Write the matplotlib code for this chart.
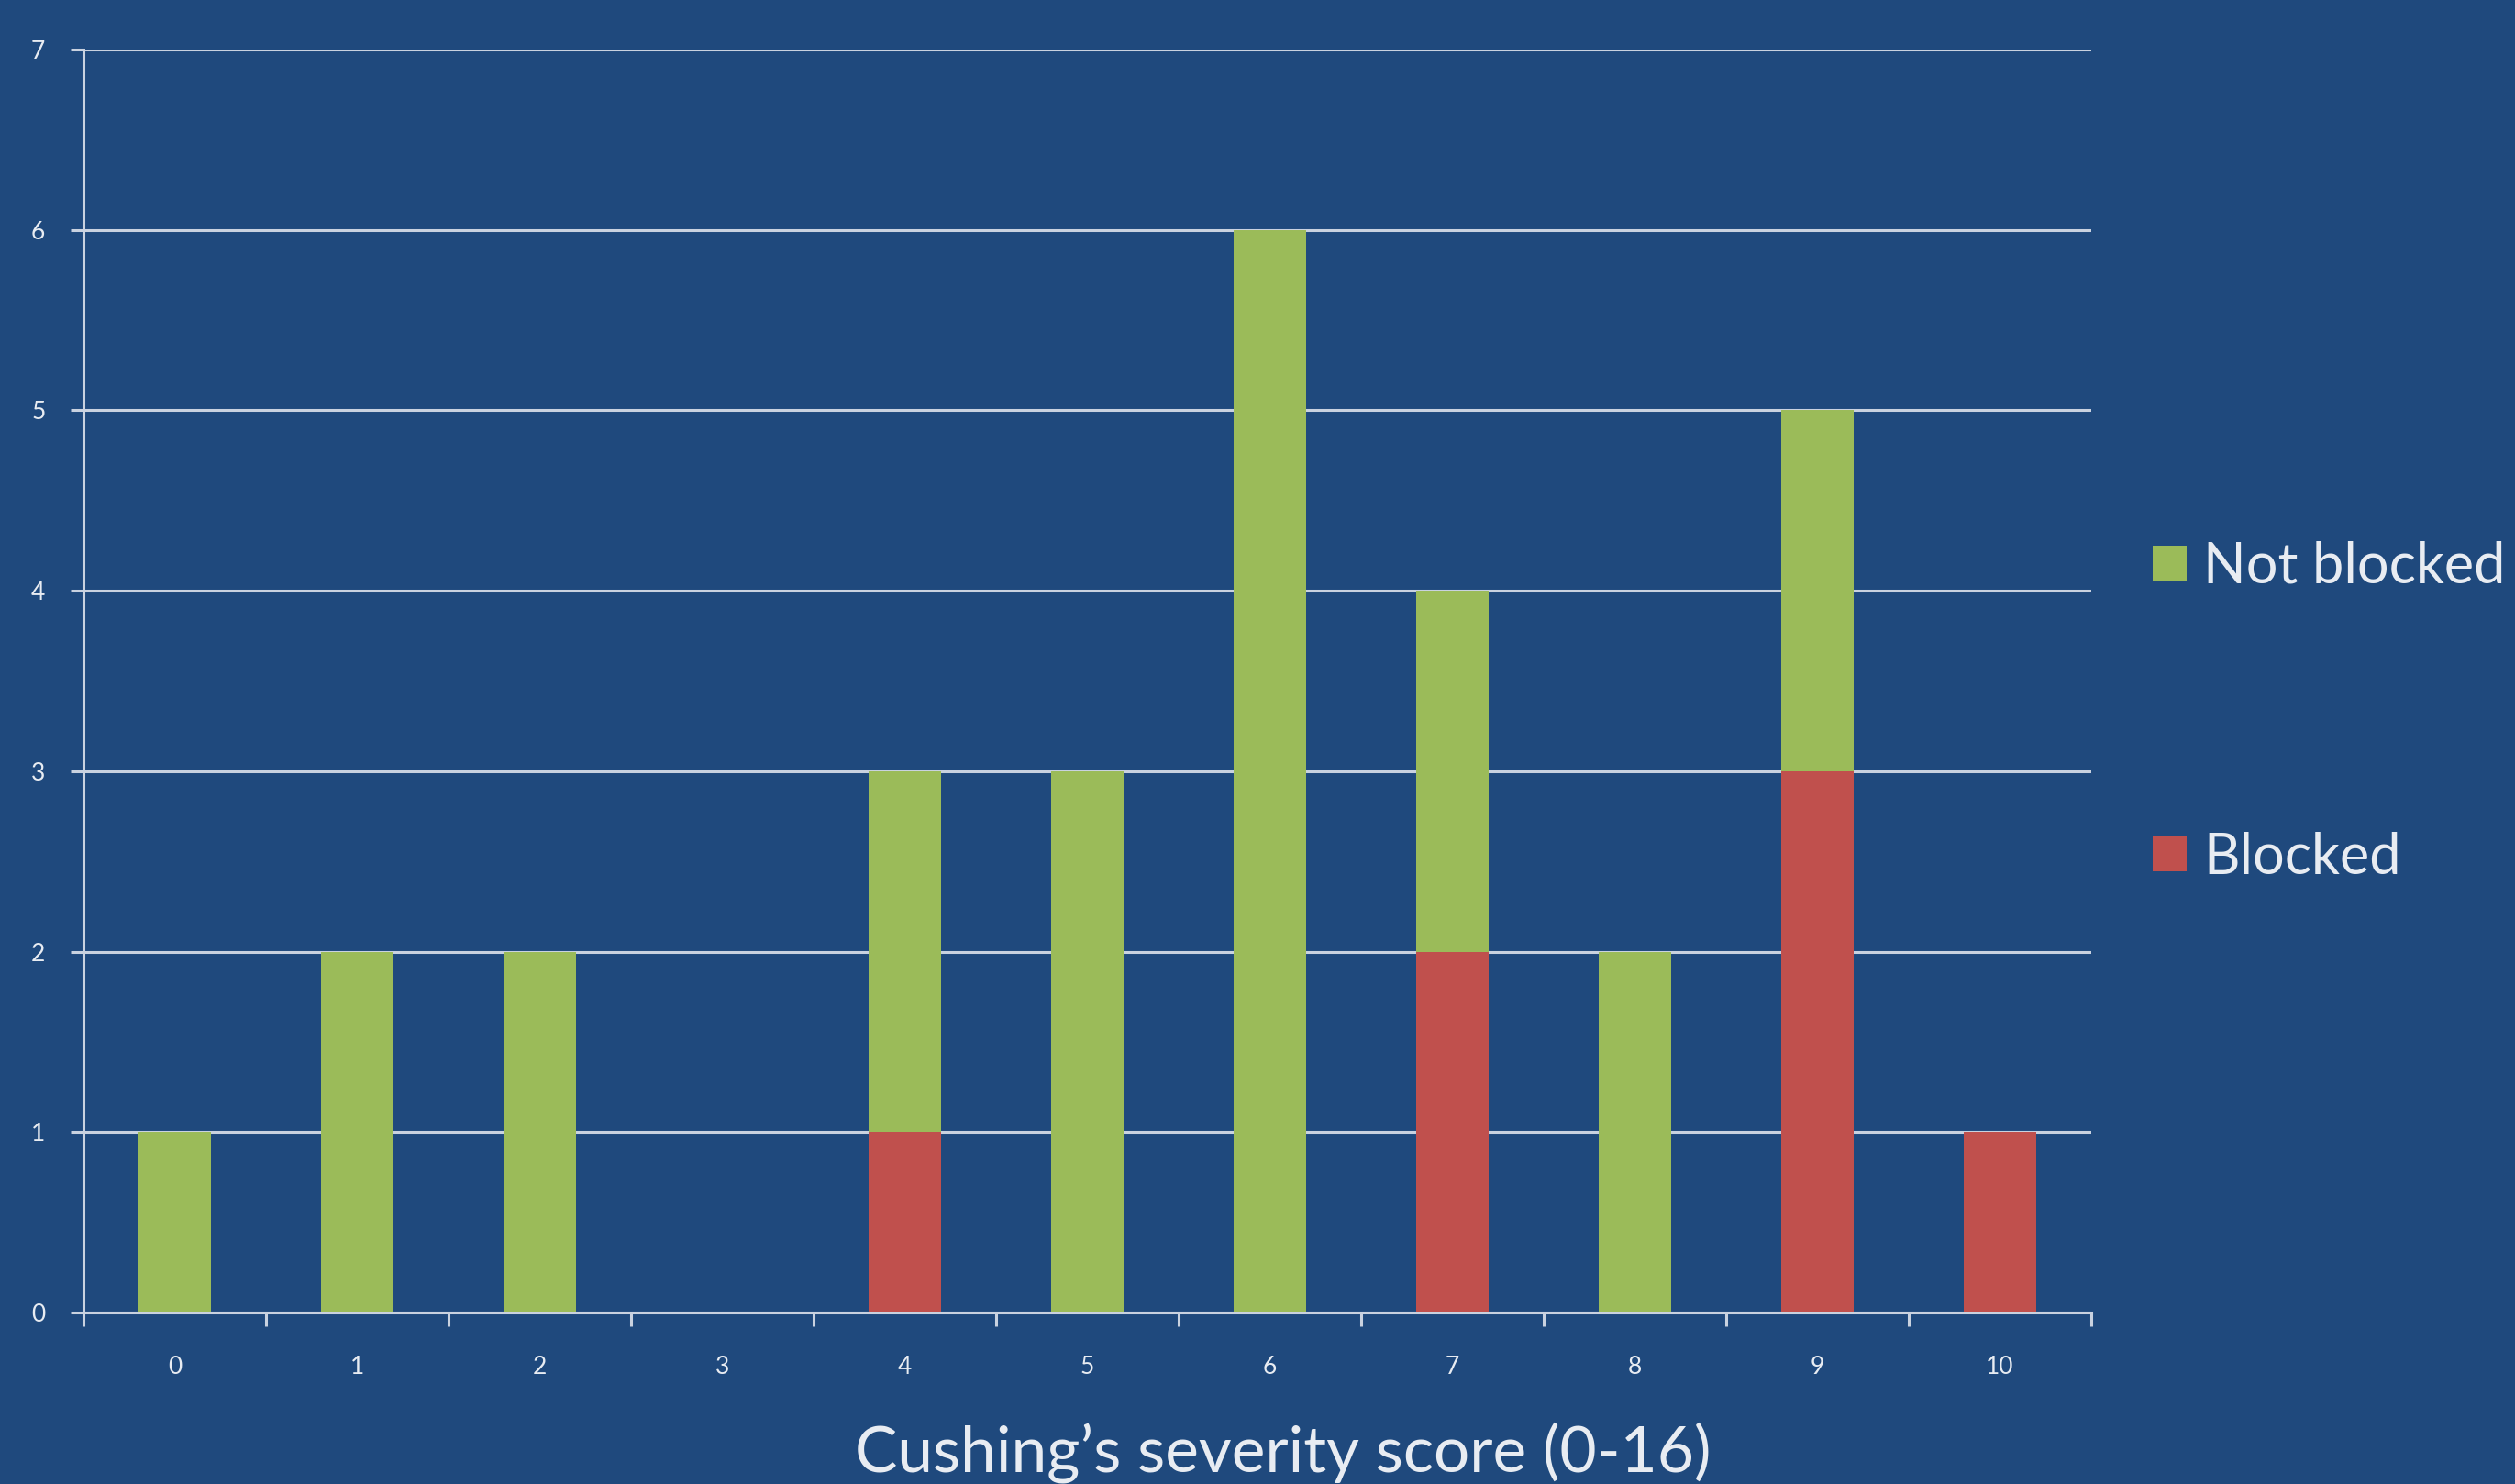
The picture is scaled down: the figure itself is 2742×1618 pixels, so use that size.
import matplotlib
matplotlib.use("Agg")
import matplotlib.pyplot as plt
import numpy as np

plt.rcParams["font.family"] = ["Lato", "DejaVu Sans"]

scores = ["0", "1", "2", "3", "4", "5", "6", "7", "8", "9", "10"]
blocked = [0, 0, 0, 0, 1, 0, 0, 2, 0, 3, 1]
not_blocked = [1, 2, 2, 0, 2, 3, 6, 2, 2, 2, 0]

BG = "#1F497D"
GREEN = "#9BBB59"
RED = "#C0504D"
GRID = "#C9D2E0"
TXT = "#E8ECF2"

fig = plt.figure(figsize=(27.42, 16.18), dpi=100, facecolor=BG)
ax = fig.add_axes([0.0332, 0.1156, 0.7983, 0.851])
ax.set_facecolor(BG)

x = np.arange(len(scores))
ax.bar(x, blocked, width=0.4, color=RED, label="Blocked", zorder=3)
ax.bar(x, not_blocked, width=0.4, bottom=blocked, color=GREEN, label="Not blocked", zorder=3)

ax.set_xlim(-0.5, len(scores) - 0.5)
ax.set_ylim(0, 7)
ax.set_yticks(range(0, 8))
ax.yaxis.grid(True, color=GRID, lw=2.2, zorder=0)
ax.set_axisbelow(True)

# category labels at centres, tick marks on the boundaries
ax.set_xticks(x)
ax.set_xticklabels(scores)
ax.set_xticks(np.arange(-0.5, len(scores)), minor=True)
ax.tick_params(axis="x", which="major", length=0, pad=34, labelsize=19, labelcolor=TXT)
ax.tick_params(axis="x", which="minor", length=11, width=2.2, color=GRID)
ax.tick_params(axis="y", length=10, width=2.2, color=GRID, pad=20, labelsize=19, labelcolor=TXT)

for s in ("top", "right"):
    ax.spines[s].set_visible(False)
for s in ("left", "bottom"):
    ax.spines[s].set_color(GRID)
    ax.spines[s].set_linewidth(2.2)

fig.text(0.51, 0.021, "Cushing\u2019s severity score (0-16)", color=TXT,
         fontsize=50, ha="center", va="center")

h, l = ax.get_legend_handles_labels()
fig.legend(h[::-1], l[::-1], loc="center left", bbox_to_anchor=(0.836, 0.52),
           frameon=False, fontsize=44, labelcolor=TXT, handlelength=0.6,
           handleheight=0.6, handletextpad=0.3, labelspacing=4.25)

fig.savefig("out.png", dpi=100, facecolor=BG)
